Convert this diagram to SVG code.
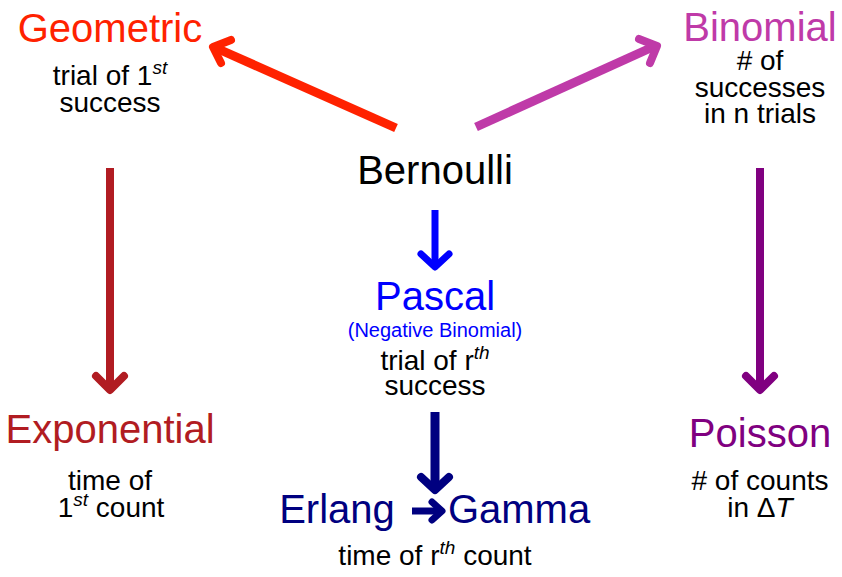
<svg xmlns="http://www.w3.org/2000/svg" width="842" height="577" viewBox="0 0 842 577">
<style>
text{font-family:"Liberation Sans",Arial,Helvetica,sans-serif;text-anchor:middle}
.t{font-size:40px}
.s{font-size:28px;fill:#000}
.sup{font-size:19px;font-style:italic}
.shaft{fill:none;stroke-linecap:butt}
.head{fill:none;stroke-linecap:round;stroke-linejoin:round}
</style>
<rect width="842" height="577" fill="#fff"/>
<g id="connectors">
  <g id="e-bern-geo" stroke="#ff2200">
    <line class="shaft" x1="396" y1="128" x2="216" y2="48" stroke-width="9"/>
    <path class="head" d="M221,63 L213,47 L231,40" stroke-width="8"/>
  </g>
  <g id="e-bern-bin" stroke="#bf3aa8">
    <line class="shaft" x1="476" y1="127" x2="655" y2="46" stroke-width="9"/>
    <path class="head" d="M639,39 L657,46 L650,63" stroke-width="8"/>
  </g>
  <g id="e-geo-exp" stroke="#b11c22">
    <line class="shaft" x1="110" y1="168" x2="110" y2="388" stroke-width="8"/>
    <path class="head" d="M96,376 L110,390 L124,376" stroke-width="8"/>
  </g>
  <g id="e-bin-poi" stroke="#800080">
    <line class="shaft" x1="760" y1="168" x2="760" y2="388" stroke-width="8"/>
    <path class="head" d="M746,376 L760,390 L774,376" stroke-width="8"/>
  </g>
  <g id="e-bern-pas" stroke="#0000ff">
    <line class="shaft" x1="435" y1="210" x2="435" y2="265" stroke-width="7"/>
    <path class="head" d="M421,254 L435,267 L449,254" stroke-width="7"/>
  </g>
  <g id="e-pas-erl" stroke="#000080">
    <line class="shaft" x1="435" y1="412" x2="435" y2="488" stroke-width="9"/>
    <path class="head" d="M421,477 L435,490 L449,477" stroke-width="8"/>
  </g>
  <g id="e-erl-gam" stroke="#000080">
    <line class="shaft" x1="412" y1="511" x2="440" y2="511" stroke-width="7"/>
    <path class="head" d="M432,502 L442,511 L432,520" stroke-width="7"/>
  </g>
</g>
<g id="bernoulli">
  <text class="t" x="435" y="184" fill="#000">Bernoulli</text>
</g>
<g id="geometric">
  <text class="t" x="110" y="42" fill="#ff2200">Geometric</text>
  <text class="s" x="110" y="85">trial of 1<tspan class="sup" dy="-11">st</tspan></text>
  <text class="s" x="110" y="112">success</text>
</g>
<g id="binomial">
  <text class="t" x="760" y="41" fill="#bf3aa8">Binomial</text>
  <text class="s" x="760" y="70"># of</text>
  <text class="s" x="760" y="97">successes</text>
  <text class="s" x="760" y="123">in n trials</text>
</g>
<g id="pascal">
  <text class="t" x="435" y="310" fill="#0000ff">Pascal</text>
  <text x="435" y="337" font-size="20" fill="#0000ff">(Negative Binomial)</text>
  <text class="s" x="435" y="370">trial of r<tspan class="sup" dy="-11">th</tspan></text>
  <text class="s" x="435" y="395">success</text>
</g>
<g id="exponential">
  <text class="t" x="110" y="443" fill="#b11c22">Exponential</text>
  <text class="s" x="110" y="490">time of</text>
  <text class="s" x="111" y="517">1<tspan class="sup" dy="-11">st</tspan><tspan dy="11"> count</tspan></text>
</g>
<g id="poisson">
  <text class="t" x="760" y="447" fill="#800080">Poisson</text>
  <text class="s" x="760" y="490"># of counts</text>
  <text class="s" x="760" y="517">in Δ<tspan font-style="italic">T</tspan></text>
</g>
<g id="erlang">
  <text class="t" x="337" y="523" fill="#000080">Erlang</text>
</g>
<g id="gamma">
  <text class="t" x="519" y="523" fill="#000080">Gamma</text>
</g>
<g id="erlang-gamma-label">
  <text class="s" x="435" y="565">time of r<tspan class="sup" dy="-11">th</tspan><tspan dy="11"> count</tspan></text>
</g>
</svg>
